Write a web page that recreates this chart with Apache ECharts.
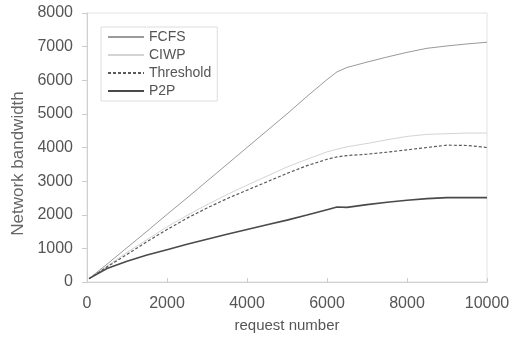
<!DOCTYPE html>
<html>
<head>
<meta charset="utf-8">
<script src="https://cdn.jsdelivr.net/npm/echarts@6/dist/echarts.min.js"></script>
<style>
html,body{margin:0;padding:0;background:#fff;}
#chart{width:524px;height:338px;}
</style>
</head>
<body>
<div id="chart"></div>
<script>
var requests=[50,500,1000,1500,2000,2500,3000,3500,4000,4500,5000,5500,6000,6250,6500,7000,7500,8000,8500,9000,9500,10000];
var fcfs=[100,530,1020,1510,2010,2500,3000,3500,4000,4500,5000,5520,6020,6250,6380,6540,6690,6830,6950,7020,7080,7130];
var ciwp=[100,470,880,1260,1640,1980,2300,2600,2880,3150,3420,3650,3870,3950,4020,4120,4230,4330,4390,4410,4430,4430];
var threshold=[100,450,820,1200,1560,1900,2200,2480,2730,2980,3230,3460,3650,3720,3760,3800,3860,3930,4000,4070,4060,4000];
var p2p=[100,400,620,800,960,1120,1270,1420,1560,1700,1840,1990,2150,2230,2220,2300,2370,2430,2480,2510,2510,2510];
var names=['FCFS','CIWP','Threshold','P2P'];

function pairs(vals){
	var out=[];
	for(var i=0;i<requests.length;i++){
		out.push([requests[i],vals[i]]);
	}
	return out;
}

var myChart=echarts.init(document.getElementById('chart'));
var txt='#555';
myChart.setOption({
	animation:false,
	backgroundColor:'#fff',
	color:['#9a9a9a','#d4d4d4','#5a5a5a','#4a4a4a'],
	textStyle:{fontFamily:'Liberation Sans, Arial, sans-serif'},
	grid:{
		left:87,right:37,top:13,bottom:50,
		show:true,borderColor:'#e2e2e2',borderWidth:1
	},
	legend:{
		data:names,
		orient:'vertical',
		left:101,top:27,
		itemWidth:36,itemHeight:14,itemGap:4,
		padding:[3,6,3,6],
		borderColor:'#ddd',borderWidth:1,
		itemStyle:{opacity:0},
		textStyle:{color:txt,fontSize:14}
	},
	xAxis:{
		type:'value',
		min:0,max:10000,interval:2000,
		name:'request number',
		nameLocation:'middle',
		nameGap:36,
		nameTextStyle:{color:txt,fontSize:15},
		axisLine:{show:true,lineStyle:{color:'#d0d0d0'}},
		axisTick:{show:true,inside:true,length:4,lineStyle:{color:'#ccc'}},
		axisLabel:{color:txt,fontSize:16,margin:14,formatter:function(v){return String(v);}},
		splitLine:{show:false}
	},
	yAxis:{
		type:'value',
		min:0,max:8000,interval:1000,
		name:'Network bandwidth',
		nameLocation:'middle',
		nameGap:56,
		nameTextStyle:{color:'#666',fontSize:17,padding:[0,32,0,0]},
		axisLine:{show:true,lineStyle:{color:'#d0d0d0'}},
		axisTick:{show:true,length:5,lineStyle:{color:'#ccc'}},
		axisLabel:{color:txt,fontSize:16,margin:14,formatter:function(v){return String(v);}},
		splitLine:{show:false}
	},
	series:[
		{name:'FCFS',type:'line',symbol:'none',data:pairs(fcfs),lineStyle:{color:'#9a9a9a',width:1}},
		{name:'CIWP',type:'line',symbol:'none',data:pairs(ciwp),lineStyle:{color:'#d4d4d4',width:1}},
		{name:'Threshold',type:'line',symbol:'none',data:pairs(threshold),lineStyle:{color:'#5a5a5a',width:1.2,type:[3,2]}},
		{name:'P2P',type:'line',symbol:'none',data:pairs(p2p),lineStyle:{color:'#4a4a4a',width:1.6}}
	]
});
</script>
</body>
</html>
